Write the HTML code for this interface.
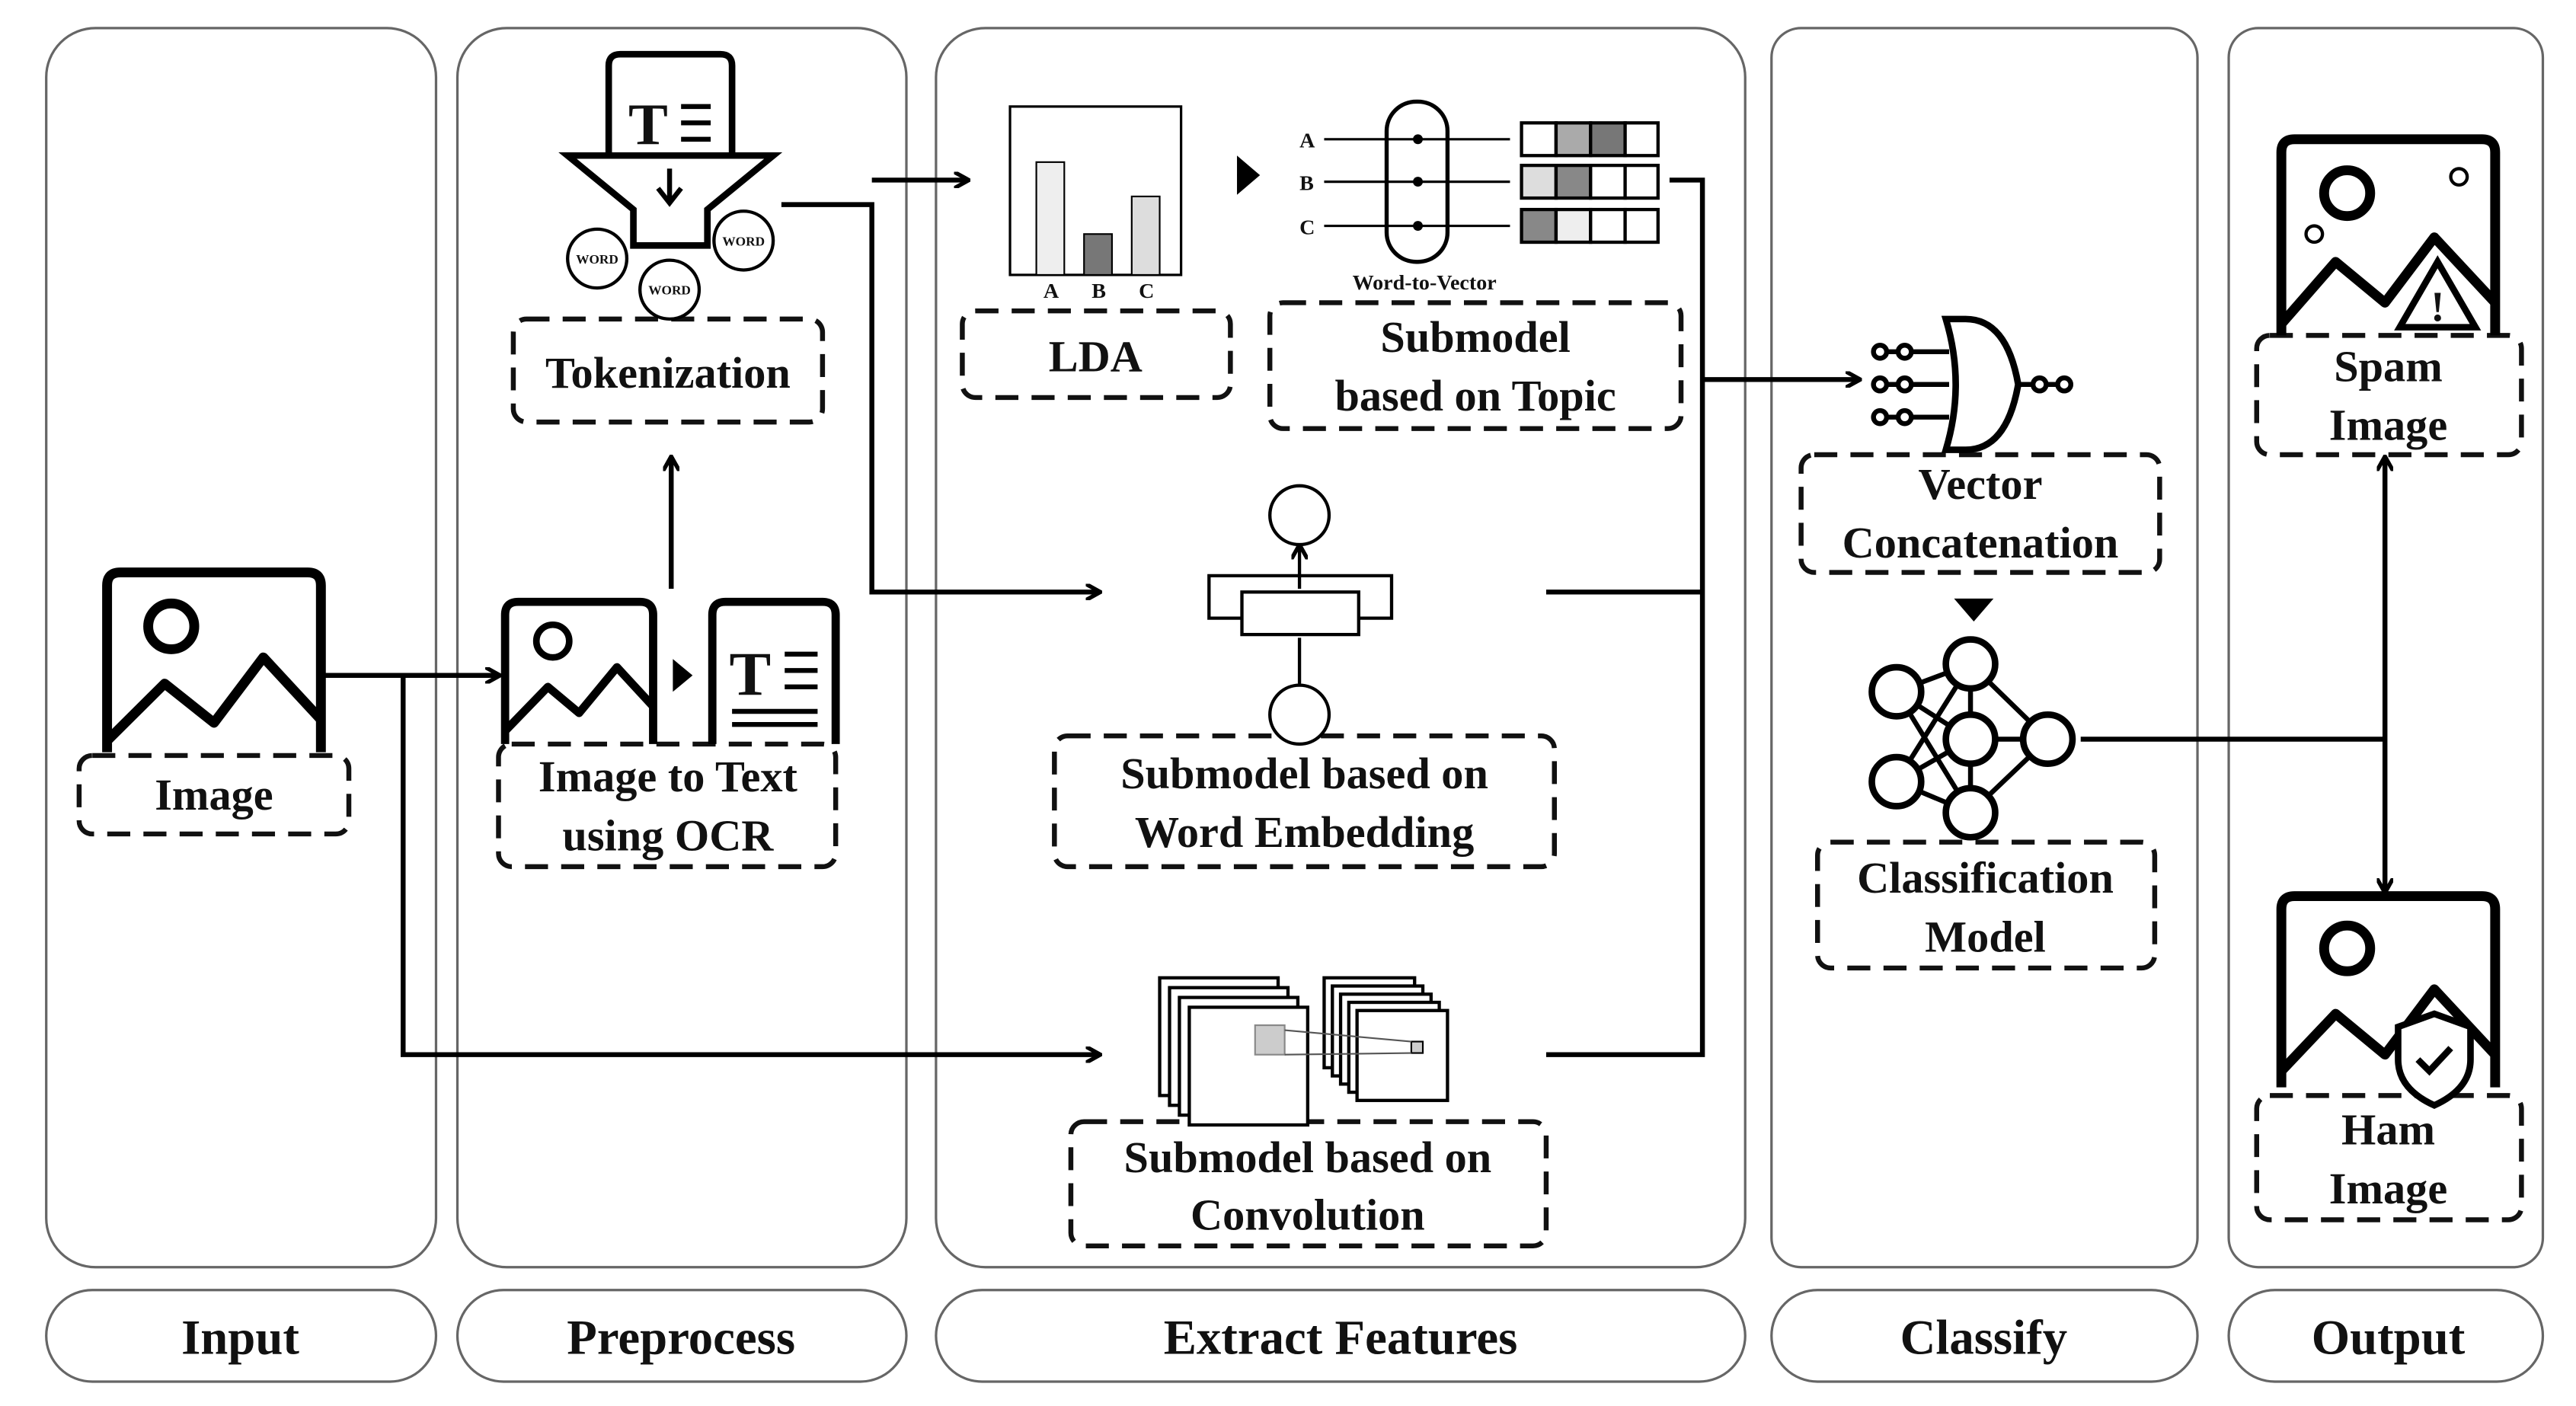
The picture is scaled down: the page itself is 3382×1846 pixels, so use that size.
<!DOCTYPE html>
<html><head><meta charset="utf-8"><style>
html,body{margin:0;padding:0;background:#fff}
svg{display:block}
text{font-family:"Liberation Serif",serif;font-weight:bold;fill:#111}
</style></head><body>
<svg width="3382" height="1846" viewBox="0 0 1560 851.5" preserveAspectRatio="none" xmlns="http://www.w3.org/2000/svg">
<defs><marker id="a" markerWidth="10" markerHeight="10" refX="8" refY="5" orient="auto" markerUnits="userSpaceOnUse"><path d="M0,0 L9,5 L0,10" fill="none" stroke="#000" stroke-width="2.5"/></marker></defs>
<g transform="translate(28,17) scale(0.996,0.99) translate(-28,-17)">
<g fill="none" stroke="#666" stroke-width="1.5">
<rect x="28" y="17" width="237" height="758" rx="30"/>
<rect x="278" y="17" width="273" height="758" rx="30"/>
<rect x="569" y="17" width="492" height="758" rx="30"/>
<rect x="1077" y="17" width="259" height="758" rx="18"/>
<rect x="1355" y="17" width="191" height="758" rx="18"/>
<rect x="28" y="789" width="237" height="56" rx="28"/>
<rect x="278" y="789" width="273" height="56" rx="28"/>
<rect x="569" y="789" width="492" height="56" rx="28"/>
<rect x="1077" y="789" width="259" height="56" rx="28"/>
<rect x="1355" y="789" width="191" height="56" rx="28"/>
</g>
<g font-size="30" text-anchor="middle">
<text x="146" y="828">Input</text><text x="414" y="828">Preprocess</text><text x="815" y="828">Extract Features</text><text x="1206" y="828">Classify</text><text x="1452" y="828">Output</text>
</g>
<g fill="none" stroke="#111" stroke-width="3" stroke-dasharray="14 8">
<rect x="48" y="462" width="164" height="48" rx="8"/>
<rect x="303" y="455" width="205" height="75" rx="8"/>
<rect x="312" y="195" width="188" height="63" rx="8"/>
<rect x="585" y="190" width="163" height="53" rx="8"/>
<rect x="772" y="185" width="250" height="77" rx="8"/>
<rect x="641" y="450" width="304" height="80" rx="8"/>
<rect x="651" y="686" width="289" height="76" rx="8"/>
<rect x="1095" y="278" width="218" height="72" rx="8"/>
<rect x="1105" y="515" width="205" height="77" rx="8"/>
<rect x="1372" y="205" width="161" height="73" rx="8"/>
<rect x="1372" y="670" width="161" height="76" rx="8"/>
</g>
<g font-size="27" text-anchor="middle">
<text x="130" y="495">Image</text>
<text x="406" y="484">Image to Text</text><text x="406" y="520">using OCR</text>
<text x="406" y="237">Tokenization</text>
<text x="666" y="227">LDA</text>
<text x="897" y="215">Submodel</text><text x="897" y="251">based on Topic</text>
<text x="793" y="482">Submodel based on</text><text x="793" y="518">Word Embedding</text>
<text x="795" y="717">Submodel based on</text><text x="795" y="752">Convolution</text>
<text x="1204" y="305">Vector</text><text x="1204" y="341">Concatenation</text>
<text x="1207" y="546">Classification</text><text x="1207" y="582">Model</text>
<text x="1452" y="233">Spam</text><text x="1452" y="269">Image</text>
<text x="1452" y="700">Ham</text><text x="1452" y="736">Image</text>
</g>
<g fill="none" stroke="#000" stroke-width="3">
<path d="M195,413 H303" marker-end="url(#a)"/>
<path d="M245,413 V645 H668" marker-end="url(#a)"/>
<path d="M408,360 V280" marker-end="url(#a)"/>
<path d="M475,125 H530 V362 H668" marker-end="url(#a)"/>
<path d="M530,110 H588" marker-end="url(#a)"/>
<path d="M1015,110 H1035 V645 H940"/>
<path d="M940,362 H1035"/>
<path d="M1035,232 H1130" marker-end="url(#a)"/>
<path d="M1265,452 H1450"/>
<path d="M1450,452 V280" marker-end="url(#a)"/>
<path d="M1450,452 V545" marker-end="url(#a)"/>
</g>
<g fill="none" stroke="#000" stroke-width="6" stroke-linejoin="round">
<path d="M65,460 V358 q0,-8 8,-8 H187 q8,0 8,8 V460"/><circle cx="104" cy="383" r="14"/><path d="M65,453 L100,418 L130,442 L160,402 L195,440"/>
<path d="M307,455 V376 q0,-8 8,-8 H389 q8,0 8,8 V455" stroke-width="5"/><circle cx="336" cy="392" r="10" stroke-width="4"/><path d="M307,447 L333,420 L352,436 L375,408 L397,432" stroke-width="5"/>
<path d="M1387,205 V93 q0,-8 8,-8 H1509 q8,0 8,8 V205"/><circle cx="1427" cy="118" r="14"/><path d="M1387,198 L1420,160 L1450,185 L1480,145 L1517,185"/>
<path d="M1387,665 V556 q0,-8 8,-8 H1509 q8,0 8,8 V665"/><circle cx="1427" cy="580" r="14"/><path d="M1387,655 L1420,620 L1450,645 L1480,605 L1517,645"/>
</g>
<path d="M1482,160 L1505,200 H1459 Z" fill="#fff" stroke="#000" stroke-width="4"/><text x="1482" y="196" font-size="26" text-anchor="middle">!</text>
<path d="M1480,620 l22,8 v20 q0,18 -22,28 q-22,-10 -22,-28 v-20 Z" fill="#fff" stroke="#000" stroke-width="4"/><path d="M1470,648 l7,7 l13,-14" fill="none" stroke="#000" stroke-width="4"/>
<circle cx="1495" cy="108" r="5" fill="none" stroke="#000" stroke-width="2"/><circle cx="1407" cy="143" r="5" fill="none" stroke="#000" stroke-width="2"/>
<path d="M433,455 V376 q0,-8 8,-8 H500 q8,0 8,8 V455" fill="none" stroke="#000" stroke-width="5"/>
<text x="456" y="425" font-size="38" text-anchor="middle">T</text>
<g stroke="#000" stroke-width="3"><path d="M477,400 H497 M477,410 H497 M477,420 H497 M445,435 H497 M445,443 H497"/></g>
<path d="M409,403 L421,413 L409,423 Z" fill="#000"/>
<path d="M370,95 V40 q0,-7 7,-7 H438 q7,0 7,7 V95" fill="none" stroke="#000" stroke-width="4"/>
<text x="394" y="88" font-size="36" text-anchor="middle">T</text>
<path d="M414,65 H432 M414,75 H432 M414,85 H432" stroke="#000" stroke-width="3"/>
<path d="M345,95 H470 L430,128 V150 H385 V128 Z" fill="#fff" stroke="#000" stroke-width="4"/>
<path d="M407,103 V122 M400,115 L407,124 L414,115" fill="none" stroke="#000" stroke-width="3"/>
<g fill="#fff" stroke="#000" stroke-width="2"><circle cx="363" cy="158" r="18"/><circle cx="407" cy="177" r="18"/><circle cx="452" cy="147" r="18"/></g>
<g font-size="8" text-anchor="middle"><text x="363" y="161">WORD</text><text x="407" y="180">WORD</text><text x="452" y="150">WORD</text></g>
<rect x="614" y="65" width="104" height="103" fill="none" stroke="#000" stroke-width="1.5"/>
<rect x="630" y="99" width="17" height="69" fill="#eee" stroke="#000"/><rect x="659" y="143" width="17" height="25" fill="#777" stroke="#000"/><rect x="688" y="120" width="17" height="48" fill="#ddd" stroke="#000"/>
<g font-size="13" text-anchor="middle" font-family="Liberation Sans"><text x="639" y="182">A</text><text x="668" y="182">B</text><text x="697" y="182">C</text></g>
<path d="M752,95 L766,107 L752,119 Z" fill="#000"/>
<rect x="843" y="62" width="37" height="98" rx="18" fill="none" stroke="#000" stroke-width="2.5"/>
<g font-size="13" font-family="Liberation Sans"><text x="790" y="90">A</text><text x="790" y="116">B</text><text x="790" y="143">C</text></g>
<g stroke="#000" stroke-width="1.5" fill="none"><path d="M805,85 H918 M805,111 H918 M805,138 H918"/></g>
<g fill="#000"><circle cx="862" cy="85" r="3"/><circle cx="862" cy="111" r="3"/><circle cx="862" cy="138" r="3"/></g>
<g stroke="#000" stroke-width="2">
<rect x="925" y="75" width="21" height="20" fill="#fff"/><rect x="946" y="75" width="21" height="20" fill="#aaa"/><rect x="967" y="75" width="21" height="20" fill="#777"/><rect x="988" y="75" width="20" height="20" fill="#fff"/>
<rect x="925" y="101" width="21" height="20" fill="#ddd"/><rect x="946" y="101" width="21" height="20" fill="#888"/><rect x="967" y="101" width="21" height="20" fill="#fff"/><rect x="988" y="101" width="20" height="20" fill="#fff"/>
<rect x="925" y="128" width="21" height="20" fill="#888"/><rect x="946" y="128" width="21" height="20" fill="#eee"/><rect x="967" y="128" width="21" height="20" fill="#fff"/><rect x="988" y="128" width="20" height="20" fill="#fff"/>
</g>
<text x="866" y="177" font-size="13" text-anchor="middle">Word-to-Vector</text>
<g fill="#fff" stroke="#000" stroke-width="2">
<circle cx="790" cy="315" r="18"/><circle cx="790" cy="437" r="18"/>
<path d="M755,378 H735 V352 H846 V378 H826"/>
<rect x="755" y="362" width="71" height="26"/>
</g>
<path d="M790,418 V390 M790,360 V334" stroke="#000" stroke-width="2" marker-end="url(#a)"/>
<g fill="#fff" stroke="#000" stroke-width="2">
<rect x="705" y="598" width="72" height="72"/><rect x="711" y="604" width="72" height="72"/><rect x="717" y="610" width="72" height="72"/><rect x="723" y="616" width="72" height="72"/>
<rect x="805" y="598" width="55" height="55"/><rect x="810" y="603" width="55" height="55"/><rect x="815" y="608" width="55" height="55"/><rect x="820" y="613" width="55" height="55"/><rect x="825" y="618" width="55" height="55"/>
</g>
<rect x="763" y="627" width="18" height="18" fill="#ccc" stroke="#888"/><rect x="858" y="637" width="7" height="7" fill="#ccc" stroke="#000"/>
<path d="M781,630 L858,637 M781,645 L858,644" stroke="#555" stroke-width="1"/>
<path d="M1183,195 H1195 q25,0 32,40 q-7,40 -32,40 H1183 q12,-40 0,-80 Z" fill="#fff" stroke="#000" stroke-width="4"/>
<g stroke="#000" stroke-width="3" fill="#fff"><path d="M1140,215 H1185 M1140,235 H1185 M1140,255 H1185 M1227,235 H1255"/>
<circle cx="1143" cy="215" r="4"/><circle cx="1158" cy="215" r="4"/><circle cx="1143" cy="235" r="4"/><circle cx="1158" cy="235" r="4"/><circle cx="1143" cy="255" r="4"/><circle cx="1158" cy="255" r="4"/><circle cx="1240" cy="235" r="4"/><circle cx="1255" cy="235" r="4"/></g>
<path d="M1188,366 H1212 L1200,380 Z" fill="#000"/>
<g stroke="#000" stroke-width="3">
<path d="M1153,423 L1198,406 M1153,423 L1198,452 M1153,423 L1198,497 M1153,478 L1198,406 M1153,478 L1198,452 M1153,478 L1198,497 M1198,406 L1245,452 M1198,452 L1245,452 M1198,497 L1245,452 M1198,406 V497"/>
</g>
<g fill="#fff" stroke="#000" stroke-width="4"><circle cx="1153" cy="423" r="15"/><circle cx="1153" cy="478" r="15"/><circle cx="1198" cy="406" r="15"/><circle cx="1198" cy="452" r="15"/><circle cx="1198" cy="497" r="15"/><circle cx="1245" cy="452" r="15"/></g>
</g>
</svg>
</body></html>
